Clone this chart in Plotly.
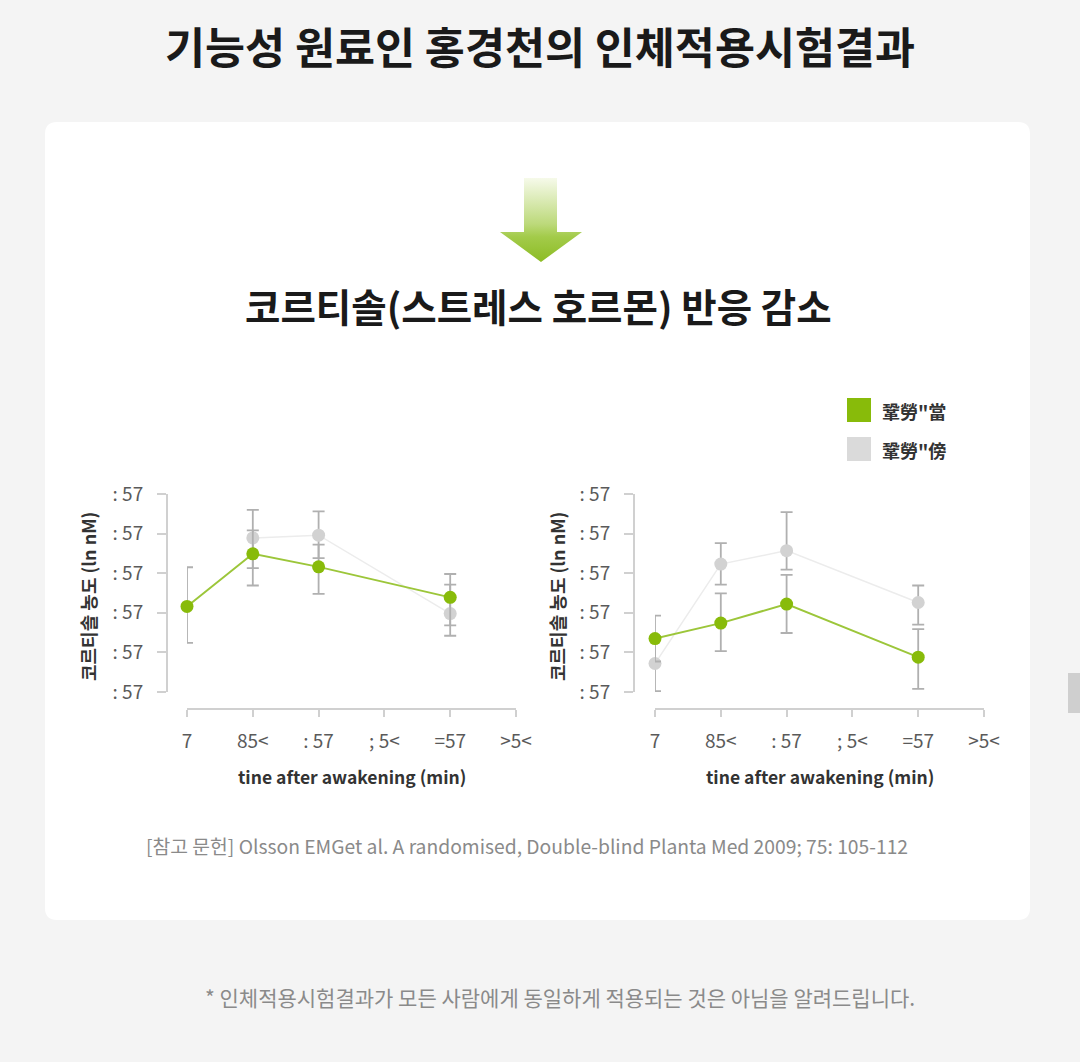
import base64
import plotly.graph_objects as go

W, H = 1080, 1062

# ---------------- data ----------------
times = [0, 15, 30, 60]
x_tick_vals = [0, 15, 30, 45, 60, 75]
x_tick_text = ["7", "85<", ": 57", "; 5<", "=57", ">5<"]
y_tick_vals = [0, 1, 2, 3, 4, 5]
y_tick_text = [": 57", ": 57", ": 57", ": 57", ": 57", ": 57"]

series_names = ['鞏勞"當', '鞏勞"傍']

left_green = [2.16, 3.49, 3.16, 2.39]
left_green_hi = [3.15, 4.08, 3.72, 2.98]
left_green_lo = [1.24, 2.69, 2.48, 1.68]
left_gray = [None, 3.89, 3.96, 1.98]
left_gray_hi = [None, 4.60, 4.56, 2.71]
left_gray_lo = [None, 3.13, 3.38, 1.42]

right_green = [1.35, 1.74, 2.22, 0.88]
right_green_hi = [1.93, 2.49, 2.96, 1.59]
right_green_lo = [0.77, 1.03, 1.49, 0.08]
right_gray = [0.72, 3.23, 3.57, 2.26]
right_gray_hi = [1.41, 3.76, 4.54, 2.69]
right_gray_lo = [0.02, 2.71, 3.09, 1.70]

title_text = "기능성 원료인 홍경천의 인체적용시험결과"
subtitle_text = "코르티솔(스트레스 호르몬) 반응 감소"
y_title = "코르티솔 농도 (ln nM)"
x_title = "tine after awakening (min)"
ref_text = "[참고 문헌] Olsson EMGet al. A randomised, Double-blind Planta Med 2009; 75: 105-112"
foot_text = "* 인체적용시험결과가 모든 사람에게 동일하게 적용되는 것은 아님을 알려드립니다."

# ---------------- helpers ----------------
def px(x):
    return x / W

def py(y):
    return 1 - y / H

GREEN = "#88bb0a"
GREEN_LN = "#9cc63a"
GRAY_MK = "#d2d2d2"
GRAY_LN = "#ececec"
ERR = "#b0b0b0"
KR = "Noto Sans CJK KR"

fig = go.Figure()

def diff(a, b):
    return [None if (p is None or q is None) else p - q for p, q in zip(a, b)]

def add_series(vals, hi, lo, color, line_color, lw, name, xa, ya):
    fig.add_trace(go.Scatter(
        x=times, y=vals, mode="lines+markers", name=name,
        xaxis=xa, yaxis=ya, cliponaxis=False, showlegend=False,
        line=dict(color=line_color, width=lw),
        marker=dict(color=color, size=13),
        error_y=dict(type="data", symmetric=False,
                     array=diff(hi, vals), arrayminus=diff(vals, lo),
                     color=ERR, thickness=1.8, width=6),
    ))

add_series(left_gray, left_gray_hi, left_gray_lo, GRAY_MK, GRAY_LN, 1.5, series_names[1], "x", "y")
add_series(left_green, left_green_hi, left_green_lo, GREEN, GREEN_LN, 2, series_names[0], "x", "y")
add_series(right_gray, right_gray_hi, right_gray_lo, GRAY_MK, GRAY_LN, 1.5, series_names[1], "x2", "y2")
add_series(right_green, right_green_hi, right_green_lo, GREEN, GREEN_LN, 2, series_names[0], "x2", "y2")

ydom = [py(692), py(494)]
xax_common = dict(range=[0, 75], tickvals=x_tick_vals, ticktext=x_tick_text,
                  showline=True, linecolor="#d0d0d0", linewidth=2,
                  ticks="outside", ticklen=7, tickwidth=2, tickcolor="#d0d0d0",
                  showgrid=False, zeroline=False, anchor="free", position=py(709),
                  tickfont=dict(family=KR, size=19, color="#5a5a5a"),
                  ticklabelstandoff=8, fixedrange=True, automargin=False)
yax_common = dict(range=[0, 5], tickvals=y_tick_vals, ticktext=y_tick_text,
                  showline=True, linecolor="#d0d0d0", linewidth=2,
                  ticks="outside", ticklen=9, tickwidth=2, tickcolor="#d0d0d0",
                  showgrid=False, zeroline=False, anchor="free", domain=ydom,
                  tickfont=dict(family=KR, size=19, color="#5a5a5a"),
                  ticklabelstandoff=10, fixedrange=True, automargin=False)

fig.update_layout(
    template="none",
    xaxis=dict(domain=[px(187), px(516)], **xax_common),
    yaxis=dict(position=px(167), **yax_common),
    xaxis2=dict(domain=[px(655), px(984)], **xax_common),
    yaxis2=dict(position=px(634), **yax_common),
)

# ---------------- decorations ----------------
def rounded_rect(x0, y0, x1, y1, r):
    return (f"M {px(x0+r)},{py(y0)} L {px(x1-r)},{py(y0)} "
            f"Q {px(x1)},{py(y0)} {px(x1)},{py(y0+r)} "
            f"L {px(x1)},{py(y1-r)} Q {px(x1)},{py(y1)} {px(x1-r)},{py(y1)} "
            f"L {px(x0+r)},{py(y1)} Q {px(x0)},{py(y1)} {px(x0)},{py(y1-r)} "
            f"L {px(x0)},{py(y0+r)} Q {px(x0)},{py(y0)} {px(x0+r)},{py(y0)} Z")

shapes = [
    dict(type="path", xref="paper", yref="paper", layer="below",
         path=rounded_rect(45, 122, 1030, 920, 12),
         fillcolor="white", line=dict(width=0)),
    dict(type="rect", xref="paper", yref="paper",
         x0=px(847), x1=px(871), y0=py(422), y1=py(398),
         fillcolor=GREEN, line=dict(width=0)),
    dict(type="rect", xref="paper", yref="paper",
         x0=px(847), x1=px(871), y0=py(461), y1=py(437),
         fillcolor="#dadada", line=dict(width=0)),
    dict(type="rect", xref="paper", yref="paper",
         x0=px(1068), x1=px(1080), y0=py(713), y1=py(673),
         fillcolor="#cfcfcf", line=dict(width=0)),
]

arrow_svg = """<svg xmlns='http://www.w3.org/2000/svg' width='82' height='84' viewBox='0 0 82 84'>
<defs><linearGradient id='g' x1='0' y1='0' x2='0' y2='1'>
<stop offset='0' stop-color='#f6faea'/><stop offset='0.55' stop-color='#bcd97a'/>
<stop offset='0.7' stop-color='#a3cb4a'/><stop offset='1' stop-color='#8cbc24'/></linearGradient></defs>
<path d='M24 0 H57 V54 H82 L41 84 L0 54 H24 Z' fill='url(#g)'/></svg>"""
arrow_src = "data:image/svg+xml;base64," + base64.b64encode(arrow_svg.encode()).decode()

images = [dict(source=arrow_src, xref="paper", yref="paper",
               x=px(500), y=py(178), sizex=px(82), sizey=84 / H,
               xanchor="left", yanchor="top", sizing="stretch", layer="above")]

def ann(text, x, y, size, color="#222", bold=False, xanchor="center", angle=0, family=KR):
    return dict(text=text, x=px(x), y=py(y), xref="paper", yref="paper",
                showarrow=False, xanchor=xanchor, yanchor="middle", textangle=angle,
                font=dict(family=family, size=size, color=color,
                          weight="bold" if bold else "normal"))

annotations = [
    ann(title_text, 540, 45, 43.5, "#1a1a1a", True),
    ann(subtitle_text, 538, 305, 38.5, "#1a1a1a", True),
    ann(series_names[0], 880, 411, 18, "#333", True, "left"),
    ann(series_names[1], 880, 450, 18, "#333", True, "left"),
    ann(y_title, 88, 597, 18, "#333", True, angle=-90),
    ann(y_title, 557, 597, 18, "#333", True, angle=-90),
    ann(x_title, 352, 776, 17.5, "#333", True),
    ann(x_title, 820, 776, 17.5, "#333", True),
    ann(ref_text, 527, 846, 19.3, "#8a8a8a"),
    ann(foot_text, 560, 997, 21, "#8a8a8a"),
]

fig.update_layout(
    width=W, height=H, margin=dict(l=0, r=0, t=0, b=0, pad=0, autoexpand=False),
    paper_bgcolor="#f4f4f4", plot_bgcolor="rgba(0,0,0,0)",
    shapes=shapes, images=images, annotations=annotations,
    showlegend=False,
)

fig.write_html("out.html", config={"displayModeBar": False})
